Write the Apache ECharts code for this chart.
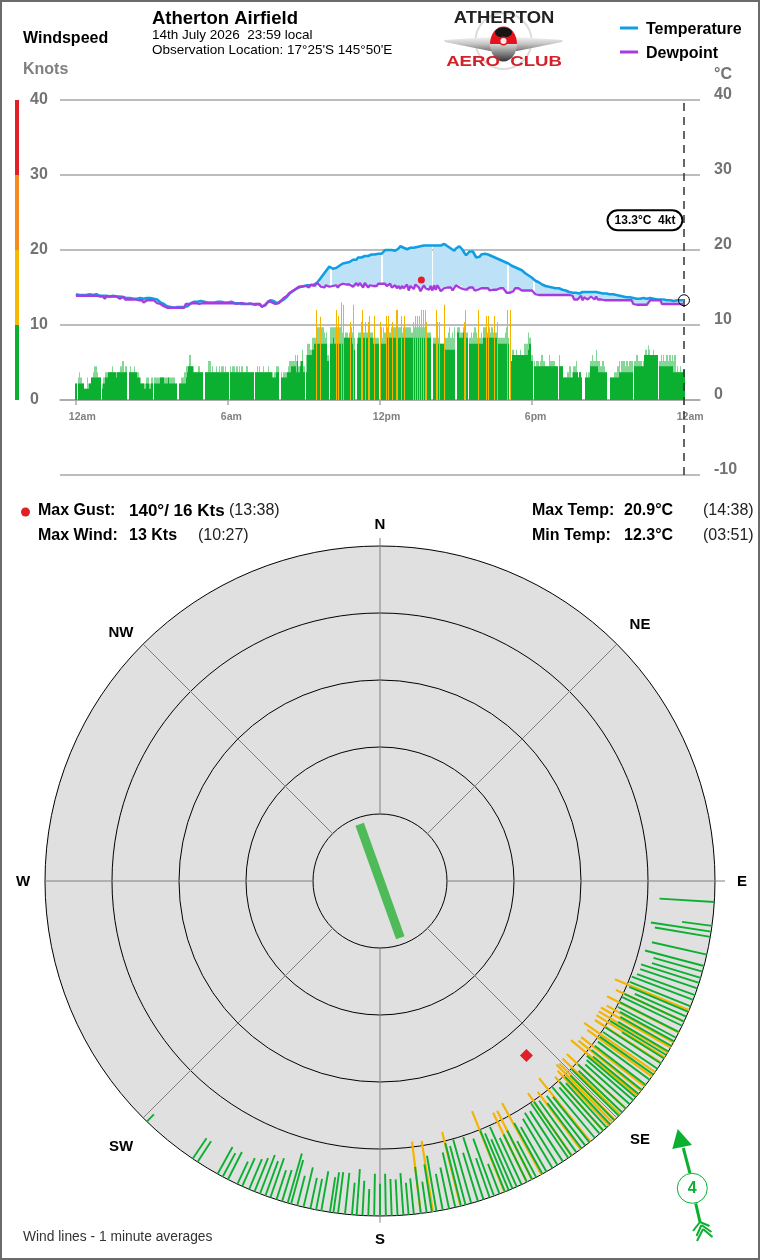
<!DOCTYPE html>
<html>
<head>
<meta charset="utf-8">
<title>Atherton Airfield weather</title>
<style>html,body{margin:0;padding:0;background:#fff}#chart{width:760px;height:1260px}</style>
<script src="https://cdn.jsdelivr.net/npm/echarts@6/dist/echarts.min.js"></script>
</head>
<body>
<div id="chart"></div>
<script>
// Temperature and dewpoint, one reading every 4 minutes, one row per hour (deg C)
const tempStep = 4;
const temperature = [
14.1,14.1,14.0,14.1,14.0,14.1,14.0,14.0,14.1,14.0,14.0,14.0,14.1,14.0,13.9,
13.9,13.9,13.8,13.9,13.9,13.8,13.8,13.9,13.8,13.8,13.7,13.8,13.8,13.7,13.7,
13.6,13.7,13.6,13.6,13.5,13.6,13.5,13.5,13.6,13.5,13.5,13.5,13.6,13.5,13.6,
13.6,13.5,13.5,13.4,13.3,13.0,12.9,12.8,12.7,12.5,12.4,12.4,12.3,12.3,12.4,
12.4,12.4,12.4,12.5,12.4,12.5,12.5,12.6,12.9,13.0,13.1,13.2,13.1,13.2,13.2,
13.1,13.1,13.0,13.0,13.1,13.0,13.0,13.0,13.0,13.1,13.0,13.1,13.0,13.0,13.0,
13.0,13.0,13.1,13.0,12.9,13.0,12.9,12.9,12.8,12.9,12.8,12.9,12.8,12.8,12.8,
12.8,12.7,12.8,12.8,12.7,12.5,12.4,12.6,12.9,13.1,13.3,13.3,13.2,13.0,12.9,
12.9,13.1,13.3,13.4,13.6,13.8,14.0,14.3,14.5,14.6,14.8,14.9,15.0,15.1,15.1,
15.2,15.2,15.3,15.3,15.3,15.4,15.4,15.5,15.7,16.0,16.2,16.6,16.9,17.2,17.5,
17.8,17.9,17.5,17.4,17.6,17.7,17.9,18.0,18.2,18.2,18.3,18.5,18.4,18.6,18.7,
18.8,18.7,19.0,19.1,19.0,19.2,19.2,19.3,19.2,19.3,19.4,19.5,19.4,19.5,19.5,
19.6,19.5,19.7,20.0,20.1,20.0,20.1,20.0,20.0,19.9,20.1,20.2,20.5,20.6,20.3,
20.2,20.1,20.2,20.3,20.4,20.3,20.5,20.4,20.6,20.5,20.7,20.6,20.5,20.6,20.5,
20.6,20.5,20.6,20.7,20.6,20.7,20.6,20.7,20.8,20.9,20.5,20.4,20.2,20.0,19.9,
20.2,20.3,20.5,20.4,20.0,19.6,19.3,19.5,19.8,20.0,19.8,19.4,19.0,18.9,19.1,
19.4,19.6,19.5,19.5,19.4,19.3,19.2,19.1,19.0,18.9,18.8,18.7,18.6,18.5,18.4,
18.3,18.2,18.0,17.9,17.8,17.7,17.6,17.5,17.4,17.3,17.1,16.9,16.8,16.6,16.4,
16.3,16.1,15.9,15.8,15.7,15.5,15.4,15.3,15.2,15.1,15.1,15.0,15.0,14.9,14.9,
14.9,14.9,14.8,14.7,14.7,14.6,14.5,14.4,14.4,14.3,14.3,14.3,14.3,14.2,14.3,
14.4,14.3,14.4,14.4,14.4,14.3,14.4,14.4,14.4,14.3,14.3,14.2,14.2,14.1,14.2,
14.2,14.1,14.0,14.1,14.0,14.0,13.9,13.9,13.8,13.8,13.7,13.7,13.6,13.7,13.6,
13.6,13.6,13.5,13.6,13.5,13.5,13.6,13.6,13.5,13.5,13.6,13.5,13.5,13.5,13.4,
13.4,13.4,13.3,13.4,13.3,13.3,13.4,13.3,13.3,13.2,13.3,13.3,13.3,13.3,13.3,13.3
];
const dewpoint = [
13.9,13.9,13.9,13.8,13.9,13.9,13.9,13.8,13.9,13.9,13.9,13.8,13.9,13.8,13.8,
13.8,13.8,13.5,13.8,13.8,13.8,13.8,13.8,13.7,13.8,13.8,13.5,13.7,13.8,13.4,
13.4,13.4,13.4,13.4,13.3,13.4,13.4,13.3,13.3,13.3,13.0,13.0,13.3,13.3,13.3,
13.3,13.3,13.3,12.9,12.8,12.8,12.8,12.5,12.3,12.3,12.3,12.3,12.3,12.3,12.3,
12.3,12.3,12.3,12.3,12.3,12.8,12.8,12.8,12.8,12.9,12.8,12.9,12.9,12.8,12.9,
12.9,12.8,12.9,12.9,12.9,12.8,12.9,12.9,12.9,12.8,12.9,12.9,12.9,12.9,12.9,
12.9,12.9,12.8,12.9,12.9,12.8,12.9,12.9,12.8,12.9,12.9,12.8,12.8,12.9,12.8,
12.8,12.8,12.8,12.6,12.8,12.4,12.4,12.7,12.9,13.2,13.2,13.0,12.8,12.8,12.8,
12.9,13.2,13.4,13.6,13.6,13.9,14.2,14.4,14.5,14.6,14.8,15.0,15.1,15.2,15.1,
15.3,15.2,15.3,15.0,15.4,15.5,15.2,15.0,15.6,15.8,15.1,15.2,15.0,15.3,15.1,
15.1,15.0,15.2,15.1,15.3,15.0,15.3,15.3,15.5,15.4,15.4,15.4,15.4,15.6,15.1,
15.1,15.6,15.2,15.6,15.3,15.0,15.6,15.4,15.0,15.3,15.2,15.2,15.0,15.2,15.5,
15.3,15.5,15.4,15.5,15.2,15.4,15.5,15.0,15.1,15.3,14.9,15.2,14.8,15.2,14.9,
15.1,15.4,14.6,15.2,15.0,14.8,15.4,15.3,15.0,14.5,14.7,15.3,14.9,15.1,14.7,
15.2,14.6,15.3,14.7,15.3,14.9,14.5,14.6,14.9,15.0,15.0,14.9,15.0,14.6,14.7,
15.3,15.4,15.0,15.2,14.8,14.6,14.7,14.5,15.0,15.0,15.0,14.6,14.4,14.7,14.9,
14.9,15.0,14.9,14.9,14.9,14.6,14.6,14.7,14.7,14.7,14.6,14.9,14.9,14.9,14.9,
14.3,14.3,14.3,14.4,14.5,14.9,14.9,14.9,14.9,14.6,14.6,14.6,14.6,14.6,14.6,
14.6,14.6,14.1,14.0,14.0,14.0,14.0,14.0,14.0,14.0,14.0,14.0,14.0,14.0,14.0,
14.0,14.0,14.0,14.0,14.0,14.0,14.0,14.0,14.0,13.9,13.4,13.4,13.4,13.4,13.9,
13.3,13.7,13.8,13.4,13.4,13.8,13.8,13.4,13.8,13.4,13.4,13.4,13.3,13.3,13.3,
13.3,13.3,13.3,13.3,13.3,13.3,13.3,13.3,13.3,13.3,13.3,13.3,13.3,13.3,13.3,
12.8,12.8,12.7,12.7,12.7,12.7,12.7,12.7,12.7,12.7,13.3,13.3,13.3,13.3,13.3,
13.3,13.3,12.8,12.8,12.8,12.8,12.8,12.8,12.8,12.8,12.8,12.8,12.8,12.8,12.8,12.8
];
// Minutes with no temperature record, left open in the shaded band
const bandGapMinutes = [604, 724, 844, 1024, 1084];

// Wind in knots, every 3 minutes, one row per hour: the steady level and the peak in that slot
const windStep = 3;
const windLevel = [
2.2,null,2.2,2.2,2.2,2.2,2.2,1.5,1.5,1.5,1.5,2.2,3,3,3,3,3,3,3,3,
null,1.5,2.2,3,3,3,3.7,3.7,3.7,3.7,3.7,3.7,3,3.7,3.7,3.7,3.7,3.7,3.7,3.7,
3.7,null,3.7,3.7,3.7,3.7,3.7,3.7,3.7,3,3,2.2,2.2,2.2,1.5,1.5,2.2,2.2,1.5,1.5,
2.2,null,2.2,2.2,2.2,2.2,2.2,3,3,3,2.2,2.2,2.2,3,2.2,2.2,2.2,2.2,2.2,2.2,
null,null,2.2,2.2,2.2,2.2,2.2,3,3.7,4.5,4.5,4.5,4.5,3.7,3.7,3.7,3.7,3.7,3.7,3.7,
3.7,null,3.7,3.7,3.7,3.7,3.7,3.7,3.7,3.7,3.7,3.7,3.7,3.7,3.7,3.7,3.7,3.7,3.7,3.7,
3.7,null,3.7,3.7,3.7,3.7,3.7,3.7,3.7,3.7,3.7,3.7,3.7,3.7,3.7,3.7,3.7,3.7,3.7,3.7,
3.7,null,3.7,3.7,3.7,3.7,3.7,3.7,3.7,3.7,3.7,3.7,3.7,3.7,3.7,3,3,3,3.7,3.7,
3.7,null,3,3,3,3,3,3.7,3.7,3.7,4.5,4.5,4.5,4.5,3.7,5.2,3.7,4.5,5.2,5.2,
3.7,null,3.7,6,6,6,6,6.7,7.5,7.5,7.5,7.5,7.5,7.5,7.5,7.5,7.5,7.5,7.5,5.2,
null,7.5,7.5,8.3,7.5,7.5,7.5,8.3,7.5,7.5,7.5,8.3,8.3,8.3,8.3,8.3,8.3,8.3,7.5,6.7,
6.7,null,7.5,8.3,8.3,8.3,8.3,8.3,8.3,8.3,8.3,8.3,8.3,8.3,8.3,7.5,7.5,7.5,7.5,7.5,
null,7.5,7.5,7.5,7.5,7.5,8.3,8.3,8.3,8.3,8.3,8.3,8.3,7.5,8.3,8.3,8.3,8.3,8.3,8.3,
8.3,8.3,8.3,8.3,8.3,8.3,8.3,8.3,7.5,8.3,8.3,8.3,8.3,8.3,8.3,8.3,8.3,8.3,8.3,8.3,
8.3,null,7.5,7.5,7.5,7.5,7.5,7.5,7.5,7.5,7.5,7.5,6.7,6.7,6.7,6.7,6.7,6.7,6.7,6.7,
null,9,9,8.3,8.3,8.3,9,8.3,8.3,8.3,null,7.5,7.5,7.5,7.5,7.5,7.5,7.5,7.5,7.5,
7.5,7.5,8.3,8.3,8.3,8.3,8.3,8.3,8.3,8.3,8.3,8.3,8.3,8.3,7.5,7.5,7.5,7.5,7.5,7.5,
7.5,7.5,null,5.2,5.2,6,6,6,6,6,6,6,6,6,6,6,6,6.7,7.5,7.5,
5.2,null,4.5,4.5,4.5,4.5,4.5,4.5,4.5,4.5,4.5,4.5,4.5,4.5,4.5,4.5,4.5,4.5,4.5,4.5,
4.5,null,4.5,4.5,4.5,3,3,3,3,3,3,3,3,3.7,3.7,3.7,3.7,3,3.7,3,
null,null,3,3,3,3,4.5,4.5,4.5,4.5,4.5,4.5,4.5,3.7,3.7,3.7,3.7,3.7,3.7,3.7,
null,null,3,3,3,3,3,3,3,3.7,3.7,3.7,3.7,3.7,3.7,3.7,3.7,3.7,3.7,3.7,
null,4.5,4.5,4.5,4.5,4.5,4.5,4.5,4.5,6,6,6,6,6,6,6,6,6,6,6,
null,4.5,4.5,4.5,4.5,4.5,4.5,4.5,4.5,4.5,4.5,4.5,3.7,3.7,3.7,3.7,3.7,3.7,3.7,3.7,4
];
const windPeak = [
2.2,null,3,3.7,3,2.2,2.2,1.5,1.5,3,2.2,2.2,3,3,3.7,4.5,4.5,3.7,3,3,
null,2.2,3,3.7,3.7,3.7,3.7,3.7,3.7,4.5,3.7,3.7,3.7,3.7,3.7,4.5,4.5,5.2,3.7,4.5,
4.5,null,3.7,4.5,3.7,3.7,4.5,3.7,3.7,3.7,3,3,2.2,2.2,2.2,2.2,3,3,2.2,2.2,
3,null,3,3,3,3,3,3,3,3,3,3,3,3,3,3,3,3,3,2.2,
null,null,2.2,3,3,3,3.7,4.5,4.5,4.5,6,4.5,4.5,4.5,3.7,3.7,3.7,4.5,3.7,3.7,
3.7,null,3.7,3.7,3.7,5.2,5.2,3.7,4.5,3.7,3.7,4.5,3.7,4.5,3.7,4.5,4.5,3.7,4.5,3.7,
3.7,null,4.5,3.7,4.5,4.5,3.7,4.5,3.7,4.5,3.7,4.5,3.7,3.7,3.7,4.5,3.7,3.7,3.7,3.7,
3.7,null,3.7,4.5,3.7,4.5,3.7,3.7,4.5,3.7,3.7,3.7,4.5,3.7,3.7,3.7,3,3.7,4.5,4.5,
4.5,null,3.7,3,3.7,3.7,3.7,3.7,4.5,5.2,5.2,5.2,5.2,6,5.2,6,4.5,5.2,5.2,6.7,
4.5,null,6,7.5,7.5,6.7,6.7,8.3,8.3,8.3,9,9.7,9.7,9.7,9.7,9.7,9,8.3,9,6,
null,9.7,9.7,9.7,9.7,9.7,9.7,9.7,9.7,9.7,9,9,8.3,9,9,8.3,9,9.7,9,8.3,
8.3,null,8.3,9,9,9,9,9,9,9,9,9.7,9,9,9,8.3,8.3,8.3,8.3,8.3,
null,9.7,8.3,9.7,9,9.7,9.7,9.7,9,9.7,9,9.7,9.7,9.7,9.7,9.7,9.7,9.7,9,9.7,
9.7,9.7,9.7,9.7,9.7,9,9,9.7,9.7,9.7,9.7,9.7,9.7,9,9.7,9.7,9.7,9.7,9,9,
9,null,8.3,8.3,8.3,8.3,8.3,7.5,7.5,7.5,7.5,7.5,8.3,8.3,9,9.7,8.3,9,8.3,9.7,
null,9.7,9.7,9.7,9,9,9.7,9,9,9,null,8.3,9,8.3,9,9.7,9,8.3,8.3,8.3,
9,8.3,9.7,9.7,9.7,9,9.7,9,9.7,9.7,9,9,9,8.3,8.3,8.3,8.3,8.3,8.3,9,
9.7,8.3,null,6,5.2,6.7,6,6,6.7,6,6,6.7,6,6,7.5,7.5,7.5,9,8.3,8.3,
6,null,5.2,4.5,5.2,5.2,4.5,5.2,6,5.2,5.2,4.5,4.5,4.5,6,5.2,5.2,5.2,5.2,4.5,
4.5,null,6,4.5,4.5,3,3,3,3.7,3.7,4.5,3,3.7,4.5,4.5,5.2,3.7,3,3.7,3,
null,null,3,3.7,3,3.7,5.2,5.2,6,5.2,5.2,6.7,5.2,5.2,4.5,4.5,5.2,4.5,3.7,3.7,
null,null,3,3,3,3.7,3.7,3.7,4.5,5.2,3.7,5.2,5.2,5.2,4.5,5.2,4.5,5.2,5.2,5.2,
null,5.2,5.2,6,5.2,5.2,5.2,4.5,5.2,6,6.7,6,7.3,6.7,6,6,6.7,6,6,6,
null,5.2,6,5.2,6,5.2,6,6,5.2,6,5.2,6,5.2,6,3.7,4.5,3.7,4.5,3.7,3.7,4
];
// Single minutes at or above ten knots, drawn in the next band colour
const strongMinute = [568,579,616,620,627,633,650,655,675,677,685,692,695,706,720,734,739,748,758,761,770,777,797,804,808,813,818,823,827,830,853,856,860,871,919,922,952,971,976,990,998,1020,1021,1028];
const strongSpeed  = [12,11.1,12,11.2,13,12.7,10.4,12.7,10.4,12,10.4,10.4,11.2,11.2,10.4,11.2,11.2,10.4,12,12,11.2,11.2,10.4,11.2,11.2,11.2,12,12,12,10.4,12,10.4,10.4,12.7,10.4,12,12,11.2,11.2,11.2,10.4,12,10.4,12];

// Speed scale strip down the left side
const scaleBreaks = [0, 10, 20, 30, 40];
const scaleColours = ['#0bb031', '#f6b900', '#f58a1f', '#e21f26'];

// Time axis
const hourTicks = [0, 360, 720, 1080, 1440];
const hourLabels = ['12am', '6am', '12pm', '6pm', '12am'];

// Latest reading and the extremes of the day
const latestMinute = 1440;
const latestTemp = 13.3;
const latestWind = 4;
const gustMinute = 818;
const gustBearing = 140;
const gustSpeed = 16;

// Wind rose: one-minute lines below ten knots (bearing in degrees, speed in knots)
const lineBearing = [93.6,97.7,98.7,99.6,102.7,104.7,105.7,106.8,107.7,108.7,109.9,110.8,112,113,113.9,114.8,115.6,116.8,117.9,118.6,
  119.5,120.6,121.3,122,123,124.1,125.3,126.4,127.5,128.6,129.5,130.2,130.9,131.8,132.8,133.7,134.5,135.6,136.6,137.4,
  138.2,139,140.1,141.3,142.2,143,144.1,145.1,145.8,146.9,148,149,150.2,151,152.2,153,154,155,155.9,156.7,
  157.4,158.1,159.1,160.1,160.9,162,163,164.2,165.2,166,167,168.1,169.2,170.3,171.1,172,173,174.2,175.1,176,
  177,178,179,180,181,182,183,184,184.8,186,187.2,188,188.6,190.1,191,192,193.2,194.3,195.4,196,
  197,198,199.1,200,201,202,203,204.3,205.2,207,208,209,213,214,224.1];
const lineKnots = [8.2,4.5,9.1,8.4,8.4,9.1,7.6,7.6,9.1,9,9.2,9.8,9.8,9.6,8.4,9.8,9.9,9.9,9.8,9.2,
  8.8,8.7,9.8,7.4,9.9,9.8,9.8,9.6,9.6,9.6,8.8,9.6,9.2,8.9,9.7,9,9.9,9.4,9.8,9,
  9.8,9.2,9.9,8.7,9.4,8.5,9.5,9.8,9.9,9,9.2,8.6,7.7,8.7,6.1,8.2,7.9,7.7,9.8,8,
  9.2,9.9,4.8,9.1,6.2,9.8,7.6,9.9,9.1,9.7,8.4,6.3,5.5,8.4,7.2,4.7,7,5.4,4.8,6.3,
  5.4,5.5,6.3,4.8,6.3,4,5.2,6.9,4.8,6.2,6.2,6.1,5.3,6,4.7,4.7,6.1,4.6,6.8,7.7,
  4.9,4.6,6.2,5.5,6.2,5.4,4.9,4.6,3.7,4.6,4,4.6,3.7,3.7,1.5];
// Wind rose: lines at ten knots and over
const strongLineBearing = [112.7,114.8,116.9,118.8,119.8,120.8,121.8,122.9,124.8,125.7,127.8,128.8,129.8,132.8,134.2,135.5,136.1,136.9,138.2,141.1,143.2,145.1,151.2,153,154,158.2,166.1,170.9,173];
const strongLineKnots = [12,11.2,12,11.4,12,12,12,11.8,12.9,11.9,12,12,12.9,12,12,11.8,12,11.2,10.8,12.2,10.7,11.4,12.2,11.5,11.5,13,11.4,10.7,10.8];
// Mean wind direction, shown as a bar through the middle ring
const meanBearing = 160.3;
const meanEnd = 41;

// Rose frame
const ringKnots = [0, 10, 20, 30, 40];
const roseMaxKnots = 50;
const spokeBearings = [0, 45, 90, 135, 180, 225, 270, 315];
const spokeOverrun = [1.2, 0, 1.5, 0, 1, 0, 0, 0];

const FONT = '"Liberation Sans", Arial, sans-serif';
const DARK_GREEN = '#0bb031';
const ORANGE = '#f5b400';
const GREY_TEXT = '#737373';

const bandData = [];
temperature.forEach((t, i) => {
  const m = i * tempStep;
  if (bandGapMinutes.indexOf(m) < 0) bandData.push([m, dewpoint[i], t]);
});

function rosePairs(speeds, bearings) {
  return speeds.map((s, i) => [s, bearings[i]]);
}
function roseLine(width, colour) {
  return function (params, api) {
    const tip = api.coord([api.value(0), api.value(1)]);
    const rim = api.coord([0, api.value(1)]);
    return { type: 'line', shape: { x1: rim[0], y1: rim[1], x2: tip[0], y2: tip[1] },
      style: { stroke: colour, lineWidth: width } };
  };
}
// Column snapped to whole pixels so neighbouring slots join without seams
function columnRect(api, minute, halfStep, low, high, fill) {
  const x0 = Math.round(api.coord([minute - halfStep, 0])[0]);
  const x1 = Math.round(api.coord([minute + halfStep, 0])[0]);
  const yLow = api.coord([minute, low])[1];
  const yHigh = api.coord([minute, high])[1];
  return { type: 'rect', shape: { x: x0, y: yHigh, width: Math.max(1, x1 - x0), height: Math.max(0, yLow - yHigh) }, style: { fill } };
}
function windColumn(colour) {
  return function (params, api) {
    const v = api.value(1);
    if (!(v > 0)) return null;
    return columnRect(api, api.value(0), windStep / 2, 0, v, colour);
  };
}
function txt(text, x, y, font, fill, align, stretch) {
  const el = { type: 'text', silent: true, style: { text, x, y, font: font + ' ' + FONT, fill: fill || '#000', align: align || 'left', verticalAlign: 'middle' } };
  if (stretch) { el.originX = x; el.originY = y; el.scaleX = stretch; }
  return el;
}
function seg(x1, y1, x2, y2, colour, w) {
  return { type: 'line', silent: true, shape: { x1, y1, x2, y2 }, style: { stroke: colour, lineWidth: w } };
}

const headerText = [
  txt('Windspeed', 23, 39, 'bold 16px'),
  txt('Knots', 23, 70, 'bold 16px', '#808080'),
  txt('Atherton Airfield', 152, 19, 'bold 18.5px'),
  txt('14th July 2026  23:59 local', 152, 35, '13.5px'),
  txt("Observation Location: 17°25'S 145°50'E", 152, 50, '13.5px'),
  seg(620, 28, 638, 28, '#0f9ee3', 3),
  txt('Temperature', 646, 30, 'bold 16px'),
  seg(620, 52, 638, 52, '#a93ae0', 3),
  txt('Dewpoint', 646, 54, 'bold 16px'),
  txt('°C', 714, 75, 'bold 16px', GREY_TEXT)
];

const statsText = [
  { type: 'circle', silent: true, shape: { cx: 25.5, cy: 512, r: 4.5 }, style: { fill: '#e21f26' } },
  txt('Max Gust:', 38, 511, 'bold 16px'),
  txt(gustBearing + '°/ ' + gustSpeed + ' Kts', 129, 511, 'bold 17px'),
  txt('(13:38)', 229, 511, '16px', '#222'),
  txt('Max Wind:', 38, 536, 'bold 16px'),
  txt('13 Kts', 129, 536, 'bold 16px'),
  txt('(10:27)', 198, 536, '16px', '#222'),
  txt('Max Temp:', 532, 511, 'bold 16px'),
  txt('20.9°C', 624, 511, 'bold 16px'),
  txt('(14:38)', 703, 511, '16px', '#222'),
  txt('Min Temp:', 532, 536, 'bold 16px'),
  txt('12.3°C', 624, 536, 'bold 16px'),
  txt('(03:51)', 703, 536, '16px', '#222'),
  txt('Wind lines - 1 minute averages', 23, 1237, '13.8px', '#333')
];

const compassText = [
  txt('N', 380, 525, 'bold 15px', '#000', 'center'),
  txt('NE', 640, 625, 'bold 15px', '#000', 'center'),
  txt('E', 742, 882, 'bold 15px', '#000', 'center'),
  txt('SE', 640, 1140, 'bold 15px', '#000', 'center'),
  txt('S', 380, 1240, 'bold 15px', '#000', 'center'),
  txt('SW', 121, 1147, 'bold 15px', '#000', 'center'),
  txt('W', 23, 882, 'bold 15px', '#000', 'center'),
  txt('NW', 121, 633, 'bold 15px', '#000', 'center')
];

// Club badge: wordmarks, propeller arc, wings and fuselage
const badge = [
  { type: 'circle', silent: true, shape: { cx: 503.5, cy: 41, r: 28 }, style: { fill: 'none', stroke: '#dcdcdc', lineWidth: 2 } },
  txt('ATHERTON', 504, 19, 'bold 16px', '#222', 'center', 1.15),
  { type: 'polygon', silent: true, shape: { points: [[444, 40], [490, 37], [517, 37], [563, 40], [562, 42], [517, 51], [490, 51], [445, 42]] },
    style: { fill: { type: 'linear', x: 0, y: 0, x2: 0, y2: 1, colorStops: [{ offset: 0, color: '#f4f4f4' }, { offset: 0.5, color: '#c4c4c4' }, { offset: 1, color: '#777' }] } } },
  { type: 'ellipse', silent: true, shape: { cx: 503.5, cy: 44, rx: 13.5, ry: 17.5 },
    style: { fill: { type: 'linear', x: 0, y: 0, x2: 0, y2: 1, colorStops: [{ offset: 0, color: '#e3121c' }, { offset: 0.5, color: '#e3121c' }, { offset: 0.5, color: '#d8d8d8' }, { offset: 0.8, color: '#777' }, { offset: 1, color: '#333' }] } } },
  { type: 'ellipse', silent: true, shape: { cx: 503.5, cy: 32.5, rx: 8.5, ry: 5 }, style: { fill: '#151515' } },
  { type: 'circle', silent: true, shape: { cx: 503.5, cy: 41, r: 3.8 }, style: { fill: '#eee', stroke: '#e3121c', lineWidth: 1.5 } },
  txt('AERO  CLUB', 504, 62, 'bold 15.5px', '#d5202a', 'center', 1.2)
];

// Current wind arrow in the bottom corner
const windArrow = [
  { type: 'polygon', silent: true, shape: { points: [[677.7, 1129], [672.3, 1149], [692, 1145]] }, style: { fill: DARK_GREEN } },
  seg(683.3, 1148, 690, 1173.3, DARK_GREEN, 3),
  { type: 'circle', silent: true, shape: { cx: 692.3, cy: 1188.3, r: 15 }, style: { fill: '#fff', stroke: DARK_GREEN, lineWidth: 1 } },
  txt(String(latestWind), 692.3, 1189, 'bold 16px', DARK_GREEN, 'center'),
  seg(695.7, 1203.3, 700, 1222, DARK_GREEN, 3),
  seg(700, 1222, 693, 1231, DARK_GREEN, 2),
  seg(700, 1222, 709.5, 1226, DARK_GREEN, 2),
  seg(701.5, 1225, 696.5, 1236, DARK_GREEN, 2),
  seg(701.5, 1225, 711.5, 1232, DARK_GREEN, 2),
  seg(703, 1229, 697, 1241, DARK_GREEN, 2),
  seg(703, 1229, 712.5, 1237, DARK_GREEN, 2)
];

const frame = { type: 'rect', silent: true, shape: { x: 1, y: 1, width: 758, height: 1258 }, style: { fill: 'none', stroke: '#6b6b6b', lineWidth: 2 } };

const option = {
  animation: false,
  backgroundColor: '#fff',
  grid: { left: 60, top: 100, width: 640, height: 375 },
  xAxis: {
    type: 'value', min: -38, max: 1478,
    axisLine: { show: true, onZero: true, lineStyle: { color: '#a6a6a6', width: 1.5 } },
    axisTick: { show: true, customValues: hourTicks, length: 5, lineStyle: { color: '#a6a6a6', width: 1.5 } },
    axisLabel: {
      customValues: hourTicks.map(m => m - 17), align: 'left', margin: -63,
      color: '#808080', fontSize: 10.5, fontWeight: 'bold', fontFamily: FONT,
      formatter: v => hourLabels[hourTicks.indexOf(v + 17)] || ''
    },
    splitLine: { show: false }
  },
  yAxis: [
    { type: 'value', min: -10, max: 40, interval: 10, position: 'left',
      axisLine: { show: false }, axisTick: { show: false },
      splitLine: { show: true, lineStyle: { color: '#a6a6a6', width: 1.5 } },
      axisLabel: { align: 'left', margin: 30, color: GREY_TEXT, fontSize: 16, fontWeight: 'bold', fontFamily: FONT,
        formatter: v => (v < 0 ? '' : String(v)) } },
    { type: 'value', min: -10, max: 40, interval: 10, position: 'right',
      axisLine: { show: false }, axisTick: { show: false }, splitLine: { show: false },
      axisLabel: { align: 'left', margin: 14, verticalAlign: 'bottom', lineHeight: 10, color: GREY_TEXT, fontSize: 16, fontWeight: 'bold', fontFamily: FONT } }
  ],
  polar: { center: [380, 881], radius: 335 },
  radiusAxis: {
    type: 'value', min: 0, max: roseMaxKnots, inverse: true,
    axisLine: { show: false }, axisTick: { show: false }, axisLabel: { show: false },
    splitLine: { show: false },
    splitArea: { show: false }
  },
  angleAxis: {
    type: 'value', min: 0, max: 360, startAngle: 90, clockwise: true,
    axisLine: { show: false }, axisTick: { show: false }, axisLabel: { show: false }, splitLine: { show: false }
  },
  series: [
    // speed strip beside the chart
    { type: 'custom', xAxisIndex: 0, yAxisIndex: 0, silent: true, clip: false,
      data: scaleColours.map((c, i) => [scaleBreaks[i], scaleBreaks[i + 1]]),
      encode: { y: [0, 1] },
      renderItem(params, api) {
        const lo = api.coord([-38, api.value(0)]);
        const hi = api.coord([-38, api.value(1)]);
        return { type: 'rect', shape: { x: lo[0] - 45, y: hi[1], width: 4, height: lo[1] - hi[1] },
          style: { fill: scaleColours[params.dataIndex] } };
      } },
    // band between dewpoint and temperature
    { type: 'custom', xAxisIndex: 0, yAxisIndex: 0, silent: true, z: 2,
      data: bandData, encode: { x: 0, y: [1, 2] },
      renderItem(params, api) {
        return columnRect(api, api.value(0), tempStep / 2, api.value(1), api.value(2), '#bde2f7');
      } },
    // wind columns: peak behind the steady level
    { type: 'custom', name: 'Wind peak', xAxisIndex: 0, yAxisIndex: 0, silent: true, z: 3,
      data: windPeak.map((v, i) => [i * windStep, v]), encode: { x: 0, y: 1 },
      renderItem: windColumn('rgba(11,176,49,0.5)') },
    { type: 'custom', name: 'Wind', xAxisIndex: 0, yAxisIndex: 0, silent: true, z: 4,
      data: windLevel.map((v, i) => [i * windStep, v]), encode: { x: 0, y: 1 },
      renderItem: windColumn(DARK_GREEN) },
    { type: 'custom', name: 'Strong wind', xAxisIndex: 0, yAxisIndex: 0, silent: true, z: 5,
      data: strongMinute.map((m, i) => [m, strongSpeed[i]]), encode: { x: 0, y: 1 },
      renderItem(params, api) {
        const top = api.coord([api.value(0), api.value(1)]);
        const base = api.coord([api.value(0), 0]);
        return { type: 'rect', shape: { x: Math.round(top[0]), y: top[1], width: 1, height: base[1] - top[1] },
          style: { fill: ORANGE } };
      } },
    // air temperature and dewpoint traces
    { type: 'line', name: 'Temperature', xAxisIndex: 0, yAxisIndex: 1, z: 6, silent: true, showSymbol: false,
      data: temperature.map((t, i) => [i * tempStep, t]), lineStyle: { color: '#0f9ee3', width: 2.6 } },
    { type: 'line', name: 'Dewpoint', xAxisIndex: 0, yAxisIndex: 1, z: 7, silent: true, showSymbol: false,
      data: dewpoint.map((t, i) => [i * tempStep, t]), lineStyle: { color: '#a93ae0', width: 2.3 },
      markLine: { silent: true, symbol: 'none', label: { show: false },
        lineStyle: { color: '#333', width: 1.5, type: [8, 6] }, data: [{ xAxis: latestMinute }] } },
    // latest reading with its tag
    { type: 'scatter', xAxisIndex: 0, yAxisIndex: 1, z: 9, silent: true, symbol: 'circle', symbolSize: 11,
      data: [[latestMinute, latestTemp]],
      itemStyle: { color: 'rgba(255,255,255,0)', borderColor: '#000', borderWidth: 1, opacity: 1 },
      label: { show: true, position: 'inside', offset: [-39, -80],
        formatter: latestTemp.toFixed(1) + '°C  ' + latestWind + 'kt',
        color: '#000', fontSize: 12, fontWeight: 'bold', fontFamily: FONT,
        backgroundColor: '#fff', borderColor: '#000', borderWidth: 2, borderRadius: 9, padding: [3, 6] } },
    // highest gust of the day on the time chart
    { type: 'scatter', xAxisIndex: 0, yAxisIndex: 0, z: 9, silent: true, symbol: 'circle', symbolSize: 7,
      data: [[gustMinute, gustSpeed]], itemStyle: { color: '#e21f26', opacity: 1 } },

    // rose background and rings
    { type: 'custom', coordinateSystem: 'polar', silent: true, z: 1,
      data: ringKnots.map(k => [k, 0]), encode: { radius: 0, angle: 1 },
      renderItem(params, api) {
        const c = api.coord([roseMaxKnots, 0]);
        const p = api.coord([api.value(0), 0]);
        const r = Math.abs(c[1] - p[1]);
        return { type: 'circle', shape: { cx: c[0], cy: c[1], r },
          style: { fill: api.value(0) === 0 ? '#e0e0e0' : 'rgba(0,0,0,0)', stroke: '#000', lineWidth: 1 } };
      } },
    // rose spokes
    { type: 'custom', coordinateSystem: 'polar', silent: true, z: 2,
      data: spokeBearings.map((b, i) => [40, b, spokeOverrun[i]]),
      encode: { radius: 0, angle: 1 },
      renderItem(params, api) {
        const inner = api.coord([api.value(0), api.value(1)]);
        const outer = api.coord([-api.value(2), api.value(1)]);
        return { type: 'line', shape: { x1: inner[0], y1: inner[1], x2: outer[0], y2: outer[1] },
          style: { stroke: '#808080', lineWidth: 1 } };
      } },
    // one-minute wind lines
    { type: 'custom', coordinateSystem: 'polar', silent: true, z: 3,
      data: rosePairs(strongLineKnots, strongLineBearing), encode: { radius: 0, angle: 1 },
      renderItem: roseLine(2.2, ORANGE) },
    { type: 'custom', coordinateSystem: 'polar', silent: true, z: 4,
      data: rosePairs(lineKnots, lineBearing), encode: { radius: 0, angle: 1 },
      renderItem: roseLine(1.9, DARK_GREEN) },
    // mean direction
    { type: 'custom', coordinateSystem: 'polar', silent: true, z: 5,
      data: [[meanEnd, meanBearing]], encode: { radius: 0, angle: 1 },
      renderItem(params, api) {
        const a = api.coord([api.value(0), api.value(1)]);
        const b = api.coord([api.value(0), api.value(1) + 180]);
        return { type: 'line', shape: { x1: a[0], y1: a[1], x2: b[0], y2: b[1] },
          style: { stroke: '#4fbb58', lineWidth: 9 } };
      } },
    // highest gust on the rose
    { type: 'scatter', coordinateSystem: 'polar', silent: true, z: 6, symbol: 'diamond', symbolSize: 13,
      data: [[gustSpeed, gustBearing]], itemStyle: { color: '#e21f26', opacity: 1 } }
  ],
  graphic: { elements: [].concat(headerText, badge, statsText, compassText, windArrow, [frame]) }
};

const chart = echarts.init(document.getElementById('chart'), null, { renderer: 'canvas', width: 760, height: 1260 });
chart.setOption(option);
</script>
</body>
</html>
